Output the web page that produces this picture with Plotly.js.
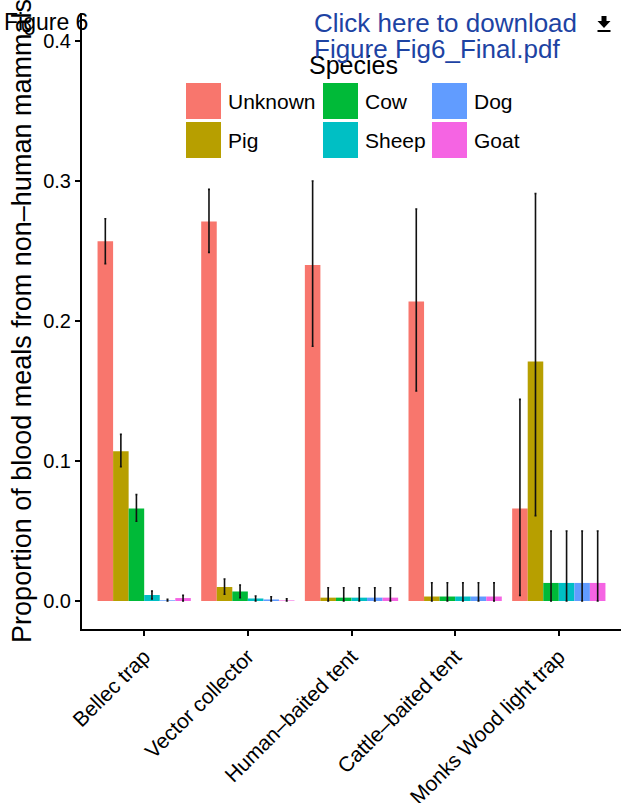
<!DOCTYPE html>
<html>
<head>
<meta charset="utf-8">
<script src="https://cdn.plot.ly/plotly-3.0.1.min.js"></script>
<style>html,body{margin:0;padding:0;background:#fff;}#chart{width:621px;height:803px;}</style>
</head>
<body>
<div id="chart"></div>
<script>
// ---- data ----
const categories = ['Bellec trap', 'Vector collector', 'Human\u2013baited tent', 'Cattle\u2013baited tent', 'Monks Wood light trap'];
const species = ['Unknown', 'Pig', 'Cow', 'Sheep', 'Dog', 'Goat'];
const speciesColors = ['#F8766D', '#B79F00', '#00BA38', '#00BFC4', '#619CFF', '#F564E3'];

const unknownVals = [0.257, 0.271, 0.240, 0.214, 0.066];
const unknownHi   = [0.273, 0.294, 0.300, 0.280, 0.144];
const unknownLo   = [0.241, 0.249, 0.182, 0.150, 0.004];

const pigVals = [0.107, 0.010, 0.0024, 0.0032, 0.171];
const pigHi   = [0.119, 0.0157, 0.0095, 0.013, 0.291];
const pigLo   = [0.096, 0.0048, 0, 0, 0.061];

const cowVals = [0.066, 0.0068, 0.0024, 0.0032, 0.0129];
const cowHi   = [0.076, 0.0114, 0.0095, 0.013, 0.050];
const cowLo   = [0.057, 0.0024, 0, 0, 0];

const sheepVals = [0.0043, 0.0018, 0.0024, 0.0032, 0.0129];
const sheepHi   = [0.0071, 0.0036, 0.0095, 0.013, 0.050];
const sheepLo   = [0.0014, 0, 0, 0, 0];

const dogVals = [0.0005, 0.0011, 0.0024, 0.0032, 0.0129];
const dogHi   = [0.0012, 0.003, 0.0095, 0.013, 0.050];
const dogLo   = [0, 0, 0, 0, 0];

const goatVals = [0.0021, 0.0004, 0.0024, 0.0032, 0.0129];
const goatHi   = [0.004, 0.0015, 0.0095, 0.013, 0.050];
const goatLo   = [0, 0, 0, 0, 0];

const yTickVals = [0, 0.1, 0.2, 0.3, 0.4];
const yTickText = ['0.0', '0.1', '0.2', '0.3', '0.4'];

const seriesVals = [unknownVals, pigVals, cowVals, sheepVals, dogVals, goatVals];
const seriesHi = [unknownHi, pigHi, cowHi, sheepHi, dogHi, goatHi];
const seriesLo = [unknownLo, pigLo, cowLo, sheepLo, dogLo, goatLo];

// ---- layout geometry (pixels) ----
const W = 621, H = 803;
const M = {l: 82, r: 0, t: 13, b: 174};
const pw = W - M.l - M.r, ph = H - M.t - M.b;
const px = x => (x - M.l) / pw;
const py = y => (H - M.b - y) / ph;
const FONT = 'Liberation Sans, Arial, Helvetica, sans-serif';

const traces = species.map((s, i) => ({
  type: 'bar',
  name: s,
  x: categories,
  y: seriesVals[i],
  marker: {color: speciesColors[i], line: {width: 0}},
  error_y: {
    type: 'data', symmetric: false,
    array: seriesHi[i].map((h, k) => h - seriesVals[i][k]),
    arrayminus: seriesVals[i].map((v, k) => v - seriesLo[i][k]),
    color: '#111', thickness: 1.6, width: 1
  },
  showlegend: false,
  hoverinfo: 'x+y+name'
}));

// ---- custom legend (ggplot style, column-major) ----
const shapes = [];
const annotations = [];
const legendCols = [186, 323, 432];
const legendRows = [83, 122];
const swW = 35, swH = 36;
species.forEach((s, i) => {
  const c = Math.floor(i / 2), r = i % 2;
  const x0 = legendCols[c], y0 = legendRows[r];
  shapes.push({type: 'rect', xref: 'paper', yref: 'paper',
    x0: px(x0), x1: px(x0 + swW), y0: py(y0 + swH), y1: py(y0),
    fillcolor: speciesColors[i], line: {width: 0}, layer: 'above'});
  annotations.push({xref: 'paper', yref: 'paper', x: px(x0 + swW + 5), y: py(y0 + swH / 2),
    xanchor: 'left', yanchor: 'middle', showarrow: false, text: s,
    font: {family: FONT, size: 21, color: '#000'}});
});
annotations.push({xref: 'paper', yref: 'paper', x: px(353), y: py(65), xanchor: 'center', yanchor: 'middle',
  showarrow: false, text: 'Species', font: {family: FONT, size: 25, color: '#000'}});

// page overlay texts
annotations.push({xref: 'paper', yref: 'paper', x: px(2), y: py(22), xanchor: 'left', yanchor: 'middle',
  showarrow: false, text: 'Figure 6', font: {family: FONT, size: 23, color: '#000'}});
annotations.push({xref: 'paper', yref: 'paper', x: px(312), y: py(23), xanchor: 'left', yanchor: 'middle',
  showarrow: false, text: 'Click here to download', font: {family: FONT, size: 26, color: '#1d43a3'}});
annotations.push({xref: 'paper', yref: 'paper', x: px(312), y: py(49), xanchor: 'left', yanchor: 'middle',
  showarrow: false, text: 'Figure Fig6_Final.pdf', font: {family: FONT, size: 26, color: '#1d43a3'}});

// download icon
shapes.push({type: 'path', xref: 'paper', yref: 'paper', fillcolor: '#000', line: {width: 0}, layer: 'above',
  path: `M ${px(601.5)} ${py(16)} L ${px(606.5)} ${py(16)} L ${px(606.5)} ${py(21)} L ${px(610.5)} ${py(21)} L ${px(604)} ${py(28)} L ${px(597.5)} ${py(21)} L ${px(601.5)} ${py(21)} Z`});
shapes.push({type: 'rect', xref: 'paper', yref: 'paper', fillcolor: '#000', line: {width: 0}, layer: 'above',
  x0: px(597.5), x1: px(610.5), y0: py(32), y1: py(30)});

const layout = {
  width: W, height: H,
  margin: M,
  paper_bgcolor: '#fff', plot_bgcolor: '#fff',
  barmode: 'group', bargap: 0.1, bargroupgap: 0,
  showlegend: false,
  font: {family: FONT, color: '#000'},
  xaxis: {
    type: 'category', categoryarray: categories, categoryorder: 'array',
    range: [-0.6, 4.6],
    ticks: 'outside', ticklen: 5, tickwidth: 2, tickcolor: '#000',
    tickangle: -45, tickfont: {family: FONT, size: 21, color: '#000'},
    showline: true, linecolor: '#000', linewidth: 2,
    showgrid: false, zeroline: false, fixedrange: true
  },
  yaxis: {
    range: [-0.02, 0.42],
    tickvals: yTickVals, ticktext: yTickText,
    ticks: 'outside', ticklen: 5, tickwidth: 2, tickcolor: '#000',
    tickfont: {family: FONT, size: 20, color: '#000'},
    showline: true, linecolor: '#000', linewidth: 2,
    showgrid: false, zeroline: false, fixedrange: true,
    title: {text: 'Proportion of blood meals from non\u2013human mammals',
      font: {family: FONT, size: 27, color: '#000'}, standoff: 4}
  },
  shapes: shapes,
  annotations: annotations
};

Plotly.newPlot('chart', traces, layout, {displayModeBar: false, staticPlot: true});
</script>
</body>
</html>
